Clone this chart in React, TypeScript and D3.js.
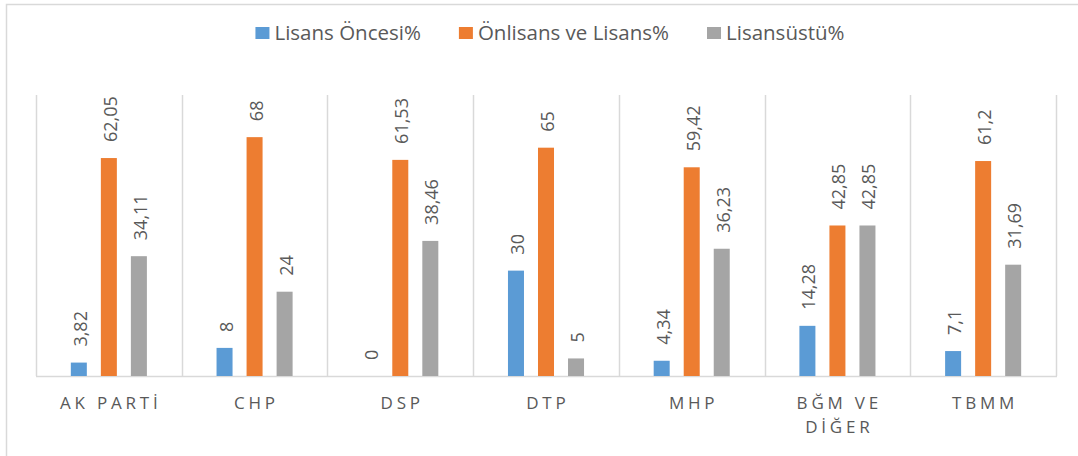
import React, { useEffect, useRef } from "react";
import * as d3 from "d3";

// Kategoriler ve seriler
const categories = ["AK PARTİ", "CHP", "DSP", "DTP", "MHP", "BĞM VE DİĞER", "TBMM"];
const seriesNames = ["Lisans Öncesi%", "Önlisans ve Lisans%", "Lisansüstü%"];
const lisansOncesi = [3.82, 8, 0, 30, 4.34, 14.28, 7.1];
const onlisansLisans = [62.05, 68, 61.53, 65, 59.42, 42.85, 61.2];
const lisansustu = [34.11, 24, 38.46, 5, 36.23, 42.85, 31.69];
const colors = ["#5B9BD5", "#ED7D31", "#A5A5A5"];

const W = 1078;
const H = 456;
const FONT = "'Open Sans', 'Liberation Sans', sans-serif";
const TEXT = "#595959";

const App = () => {
  const ref = useRef<SVGSVGElement | null>(null);

  useEffect(() => {
    const svg = d3.select(ref.current);
    svg.selectAll("*").remove();

    const margin = { top: 95, right: 22, bottom: 80, left: 36 };
    const values = [lisansOncesi, onlisansLisans, lisansustu];

    // Dış çerçeve
    svg
      .append("rect")
      .attr("x", 6.5)
      .attr("y", 4.5)
      .attr("width", 1100)
      .attr("height", 480)
      .attr("fill", "#fff")
      .attr("stroke", "#d9d9d9")
      .attr("stroke-width", 1.5);

    const x0 = d3
      .scaleBand<string>()
      .domain(categories)
      .range([margin.left, W - margin.right])
      .paddingInner(0.382)
      .paddingOuter(0.191);

    const x1 = d3
      .scaleBand<string>()
      .domain(seriesNames)
      .range([0, x0.bandwidth()])
      .paddingInner(0.467)
      .paddingOuter(0.233);

    const y = d3
      .scaleLinear()
      .domain([0, 80])
      .range([H - margin.bottom, margin.top]);

    // Kategori ayırıcı çizgiler
    const step = x0.step();
    const grid = svg.append("g");
    d3.range(categories.length + 1).forEach((i) => {
      const gx = Math.round(margin.left + i * step) + 0.5;
      grid
        .append("line")
        .attr("x1", gx)
        .attr("x2", gx)
        .attr("y1", y(80))
        .attr("y2", y(0))
        .attr("stroke", "#d9d9d9")
        .attr("stroke-width", 1.5);
    });
    grid
      .append("line")
      .attr("x1", margin.left)
      .attr("x2", margin.left + categories.length * step + 1)
      .attr("y1", y(0) + 0.5)
      .attr("y2", y(0) + 0.5)
      .attr("stroke", "#d9d9d9")
      .attr("stroke-width", 1.5);

    // Barlar ve etiketler
    seriesNames.forEach((s, si) => {
      const g = svg.append("g");
      g.selectAll("rect")
        .data(values[si])
        .enter()
        .append("rect")
        .attr("x", (d, i) => (x0(categories[i]) as number) + (x1(s) as number))
        .attr("y", (d) => y(d))
        .attr("width", x1.bandwidth())
        .attr("height", (d) => y(0) - y(d))
        .attr("fill", colors[si]);

      g.selectAll("text")
        .data(values[si])
        .enter()
        .append("text")
        .attr("transform", (d, i) => {
          const cx = (x0(categories[i]) as number) + (x1(s) as number) + x1.bandwidth() / 2;
          return `translate(${cx},${y(d) - 16}) rotate(-90)`;
        })
        .attr("dy", 8)
        .attr("font-family", FONT)
        .attr("font-size", 18)
        .attr("fill", TEXT)
        .text((d) => String(d).replace(".", ","));
    });

    // Kategori etiketleri (satır kaydırmalı)
    const catG = svg.append("g");
    const ls = 3.8;
    categories.forEach((c) => {
      const cx = (x0(c) as number) + x0.bandwidth() / 2;
      const t = catG
        .append("text")
        .attr("x", cx)
        .attr("y", 409)
        .attr("text-anchor", "middle")
        .attr("font-family", FONT)
        .attr("font-size", 17)
        .attr("letter-spacing", ls)
        .attr("fill", TEXT);
      const words = c.split(" ");
      let line: string[] = [];
      let tspan = t.append("tspan").attr("x", cx + ls / 2).attr("dy", 0);
      words.forEach((w) => {
        line.push(w);
        tspan.text(line.join(" "));
        const len = (tspan.node() as SVGTSpanElement).getComputedTextLength();
        if (len > step - 40 && line.length > 1) {
          line.pop();
          tspan.text(line.join(" "));
          line = [w];
          tspan = t.append("tspan").attr("x", cx + ls / 2).attr("dy", 23.5).text(w);
        }
      });
    });

    // Lejant
    const legend = svg.append("g");
    const sq = 14;
    const gap = 5;
    const itemGap = 38;
    const items = seriesNames.map((s, i) => {
      const ig = legend.append("g");
      ig.append("rect")
        .attr("x", 0)
        .attr("y", 27)
        .attr("width", sq)
        .attr("height", 12)
        .attr("fill", colors[i]);
      const tx = ig
        .append("text")
        .attr("x", sq + gap)
        .attr("y", 40)
        .attr("font-family", FONT)
        .attr("font-size", 20.5)
        .attr("fill", TEXT)
        .text(s);
      const w = sq + gap + (tx.node() as SVGTextElement).getComputedTextLength();
      return { ig, w };
    });
    const total = d3.sum(items, (d) => d.w) + itemGap * (items.length - 1);
    let lx = 550 - total / 2;
    items.forEach((it) => {
      it.ig.attr("transform", `translate(${lx},0)`);
      lx += it.w + itemGap;
    });
  }, []);

  return (
    <svg
      ref={ref}
      width={W}
      height={H}
      style={{ position: "absolute", left: 0, top: 0, background: "#fff" }}
    />
  );
};

export default App;
